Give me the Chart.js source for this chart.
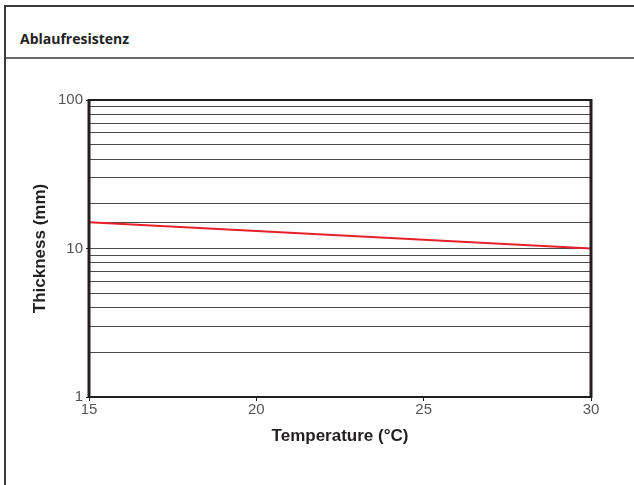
<!DOCTYPE html>
<html>
<head>
<meta charset="utf-8">
<script src="https://cdn.jsdelivr.net/npm/chart.js@4/dist/chart.umd.min.js"></script>
<style>
  body { margin: 0; background: #fff; }
  #rahmen { position: absolute; left: 4px; top: 5px; width: 700px; height: 600px;
            border-left: 2px solid #3a3a3a; border-top: 2px solid #3a3a3a; }
  #kopf { position: absolute; left: 0; top: 0; width: 700px; height: 50px;
          border-bottom: 2px solid #6a6a6a; }
  #titel { position: absolute; left: 14px; top: 22px; font: bold 14px "Open Sans", sans-serif; color: #222; }
  #wrap { position: absolute; left: 0; top: 0; width: 634px; height: 485px; }
</style>
</head>
<body>
<div id="rahmen"><div id="kopf"><div id="titel">Ablaufresistenz</div></div></div>
<div id="wrap"><canvas id="grafik" width="634" height="485"></canvas></div>
<script>
// Daten aus dem Diagramm
const temperaturen = [15, 30];
const dicke = [15, 10];
const xTicks = [15, 20, 25, 30];
const yTicks = [1, 10, 100];

const punkte = temperaturen.map((t, i) => ({ x: t, y: dicke[i] }));

// Rahmen um die Zeichenfläche
const rahmenPlugin = {
  id: 'rahmenPlugin',
  afterDraw(chart) {
    const { ctx, chartArea: a } = chart;
    ctx.save();
    ctx.strokeStyle = '#231f20';
    ctx.lineWidth = 2;
    ctx.beginPath();
    ctx.moveTo(a.left, a.top); ctx.lineTo(a.right, a.top);
    ctx.moveTo(a.left, a.bottom); ctx.lineTo(a.right, a.bottom);
    ctx.stroke();
    ctx.lineWidth = 3;
    ctx.beginPath();
    ctx.moveTo(a.left, a.top - 1); ctx.lineTo(a.left, a.bottom + 1);
    ctx.moveTo(a.right, a.top - 1); ctx.lineTo(a.right, a.bottom + 1);
    ctx.stroke();
    ctx.restore();
  }
};

new Chart(document.getElementById('grafik'), {
  type: 'line',
  data: {
    datasets: [{
      data: punkte,
      borderColor: '#e8202a',
      borderWidth: 2,
      pointRadius: 0,
      fill: false
    }]
  },
  options: {
    responsive: false,
    animation: false,
    layout: { padding: { top: 100, right: 43, bottom: 34, left: 26 } },
    plugins: { legend: { display: false }, tooltip: { enabled: false } },
    scales: {
      x: {
        type: 'linear',
        min: xTicks[0],
        max: xTicks[xTicks.length - 1],
        afterFit: (s) => { s.height = 54; },
        afterBuildTicks: (s) => { s.ticks = xTicks.map(v => ({ value: v })); },
        border: { display: false },
        grid: { drawOnChartArea: false, drawTicks: true, tickLength: 4, color: '#231f20' },
        ticks: { color: '#555', font: { family: 'Liberation Sans', size: 15 }, padding: 0 },
        title: {
          display: true,
          text: 'Temperature (°C)',
          color: '#231f20',
          font: { family: 'Liberation Sans', size: 17, weight: 'bold' }
        }
      },
      y: {
        type: 'logarithmic',
        min: yTicks[0],
        max: yTicks[yTicks.length - 1],
        afterFit: (s) => { s.width = 63; },
        border: { display: false },
        grid: {
          color: '#4a4a4a',
          lineWidth: 1,
          tickLength: 3,
          tickColor: (c) => yTicks.includes(c.tick && c.tick.value) ? '#231f20' : 'rgba(0,0,0,0)'
        },
        ticks: {
          autoSkip: false,
          color: '#555',
          padding: 3,
          font: { family: 'Liberation Sans', size: 15 },
          callback: (v) => yTicks.includes(v) ? String(v) : ''
        },
        title: {
          display: true,
          text: 'Thickness (mm)',
          color: '#231f20',
          font: { family: 'Liberation Sans', size: 17, weight: 'bold' }
        }
      }
    }
  },
  plugins: [rahmenPlugin]
});
</script>
</body>
</html>
